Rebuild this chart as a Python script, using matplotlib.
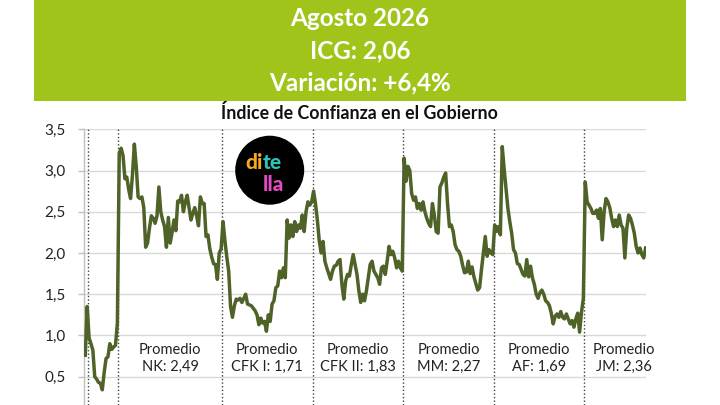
import matplotlib
matplotlib.use("Agg")
import matplotlib.pyplot as plt
from matplotlib.patches import Rectangle, Ellipse
import numpy as np

# ---------------- data ----------------
header_lines = ["Agosto 2026", "ICG: 2,06", "Variación: +6,4%"]
chart_title = "Índice de Confianza en el Gobierno"

# Monthly ICG values from Nov 2001 to Aug 2026
delarua = [0.76, 1.35]
duhalde = [0.97, 0.90, 0.82, 0.50, 0.47, 0.43, 0.42, 0.34, 0.55, 0.72,
           0.74, 0.90, 0.83, 0.86, 0.88, 1.15]
nk = [3.21, 3.27, 3.18, 2.90, 2.92, 2.77, 2.66, 2.95, 3.32, 3.05,
      2.68, 2.66, 2.68, 2.55, 2.07, 2.12, 2.30, 2.45, 2.42, 2.36,
      2.45, 2.80, 2.50, 2.40, 2.32, 2.07, 2.43, 2.12, 2.25, 2.40,
      2.27, 2.63, 2.62, 2.70, 2.50, 2.62, 2.70, 2.55, 2.40, 2.48,
      2.55, 2.45, 2.33, 2.68, 2.60, 2.60, 2.20, 2.22, 2.05, 1.95,
      1.87, 1.86, 1.68, 2.00, 2.05]
cfk1 = [2.38, 2.15, 1.95, 1.78, 1.35, 1.22, 1.36, 1.44, 1.43, 1.45,
        1.40, 1.45, 1.50, 1.38, 1.37, 1.36, 1.33, 1.30, 1.25, 1.13,
        1.21, 1.15, 1.17, 1.05, 1.25, 1.17, 1.38, 1.42, 1.58, 1.60,
        1.78, 1.70, 1.82, 1.70, 2.40, 2.18, 2.34, 2.20, 2.38, 2.26,
        2.34, 2.30, 2.46, 2.26, 2.50, 2.62, 2.58, 2.62]
cfk2 = [2.75, 2.60, 2.40, 2.15, 2.00, 2.14, 1.90, 1.82, 1.75, 1.68,
        1.78, 1.84, 1.85, 1.90, 1.92, 1.62, 1.44, 1.66, 1.74, 1.72,
        1.86, 1.98, 1.86, 1.74, 1.54, 1.40, 1.50, 1.42, 1.54, 1.70,
        1.86, 1.90, 1.78, 1.74, 1.70, 1.62, 1.82, 1.84, 1.74, 1.90,
        2.08, 1.98, 2.02, 1.94, 1.82, 1.90, 1.82, 1.78]
mm = [3.15, 2.87, 3.05, 3.00, 2.72, 2.64, 2.68, 2.54, 2.60, 2.52,
      2.62, 2.50, 2.42, 2.36, 2.32, 2.60, 2.46, 2.26, 2.24, 2.80,
      2.85, 2.92, 2.97, 2.60, 2.32, 2.34, 2.26, 2.10, 2.04, 2.02,
      1.96, 1.85, 1.76, 1.77, 1.90, 1.75, 1.83, 1.71, 1.63, 1.55,
      1.58, 1.80, 2.00, 2.20, 1.96, 2.04, 2.00, 1.98]
af = [2.34, 2.26, 2.32, 2.22, 3.29, 3.02, 2.78, 2.54, 2.38, 2.24,
      2.04, 2.00, 1.87, 1.86, 1.80, 1.74, 1.72, 1.92, 1.71, 1.84,
      1.70, 1.62, 1.50, 1.45, 1.52, 1.55, 1.50, 1.42, 1.40, 1.36,
      1.27, 1.14, 1.23, 1.26, 1.22, 1.29, 1.22, 1.20, 1.26, 1.20,
      1.14, 1.18, 1.10, 1.20, 1.27, 1.04, 1.28, 1.45]
jm = [2.86, 2.62, 2.58, 2.54, 2.48, 2.48, 2.52, 2.42, 2.54, 2.16,
      2.50, 2.66, 2.62, 2.55, 2.42, 2.32, 2.40, 2.32, 2.46, 2.34,
      2.30, 1.94, 2.30, 2.46, 2.42, 2.34, 2.24, 2.08, 2.00, 2.06,
      1.98, 1.94, 2.06]

segments = [delarua, duhalde, nk, cfk1, cfk2, mm, af, jm]
period_names = ["NK", "CFK I", "CFK II", "MM", "AF", "JM"]
period_avgs = ["2,49", "1,71", "1,83", "2,27", "1,69", "2,36"]

y_ticks = [0.5, 1.0, 1.5, 2.0, 2.5, 3.0, 3.5]
y_tick_labels = ["0,5", "1,0", "1,5", "2,0", "2,5", "3,0", "3,5"]

# ---------------- figure ----------------
W, H = 720, 405
plt.rcParams["font.family"] = ["Lato", "DejaVu Sans"]
fig = plt.figure(figsize=(W / 100, H / 100), dpi=100)
fig.patch.set_facecolor("white")

def fx(px):
    return px / W

def fy(py):
    return 1 - py / H

green = "#A1C41B"
fig.patches.append(Rectangle((fx(34), fy(101)), fx(686) - fx(34), fy(0) - fy(101),
                             transform=fig.transFigure, facecolor=green,
                             edgecolor="none", zorder=0))
for txt, py in zip(header_lines, [19, 51, 83]):
    fig.text(0.5, fy(py), txt, ha="center", va="center", color="white",
             fontsize=17.5, fontweight="bold")

fig.text(fx(359), fy(113), chart_title, ha="center", va="center",
         color="#111111", fontsize=12.8, fontweight="bold")

ax = fig.add_axes([fx(84), 0, fx(646) - fx(84), fy(129.3)])
values = np.concatenate([np.asarray(s, dtype=float) for s in segments])
months = np.arange(len(values))
ax.set_xlim(-0.69, months[-1] + 0.2)
ax.set_ylim(0.156, 3.5)

ax.set_yticks(y_ticks)
ax.set_yticklabels(y_tick_labels)
ax.set_xticks([])
ax.tick_params(axis="y", length=4, width=1, color="#BFBFBF", pad=9,
               labelsize=11, labelcolor="#222222")
for s in ["top", "right", "bottom"]:
    ax.spines[s].set_visible(False)
ax.spines["left"].set_color("#BFBFBF")
ax.spines["left"].set_linewidth(1)
ax.grid(axis="y", color="#D9D9D9", linewidth=1)
ax.set_axisbelow(True)

# period boundaries (between months)
bounds = np.cumsum([len(s) for s in segments])[:-1] - 0.5
for b in bounds:
    ax.axvline(b, color="#404040", linewidth=1, linestyle=(0, (1, 1.6)), zorder=1)

ax.plot(months, values, color="#4F6228", linewidth=2.5, zorder=3,
        solid_joinstyle="round")

# average labels
starts = list(bounds[1:])
ends = list(bounds[2:]) + [months[-1] + 9.5]
for name, avg, a, b in zip(period_names, period_avgs, starts, ends):
    xc = (a + b) / 2
    ax.text(xc, 0.823, "Promedio", ha="center", va="center", fontsize=10.5,
            color="#222222")
    ax.text(xc, 0.617, f"{name}: {avg}", ha="center", va="center",
            fontsize=10.5, color="#222222")

# di tella logo
r = 34.5
fig.patches.append(Ellipse((fx(269.7), fy(170.2)), 2 * r / W, 2 * r / H,
                           transform=fig.transFigure, facecolor="black",
                           edgecolor="none", zorder=5))
fig.text(fx(245), fy(169), "di", color="#F6A91C", fontsize=15,
         fontweight="black", ha="left", va="baseline", zorder=6)
fig.text(fx(263), fy(169), "te", color="#2BC3B4", fontsize=15,
         fontweight="black", ha="left", va="baseline", zorder=6)
fig.text(fx(263), fy(191), "lla", color="#E54BC0", fontsize=15,
         fontweight="black", ha="left", va="baseline", zorder=6)

fig.savefig("out.png", dpi=100)
